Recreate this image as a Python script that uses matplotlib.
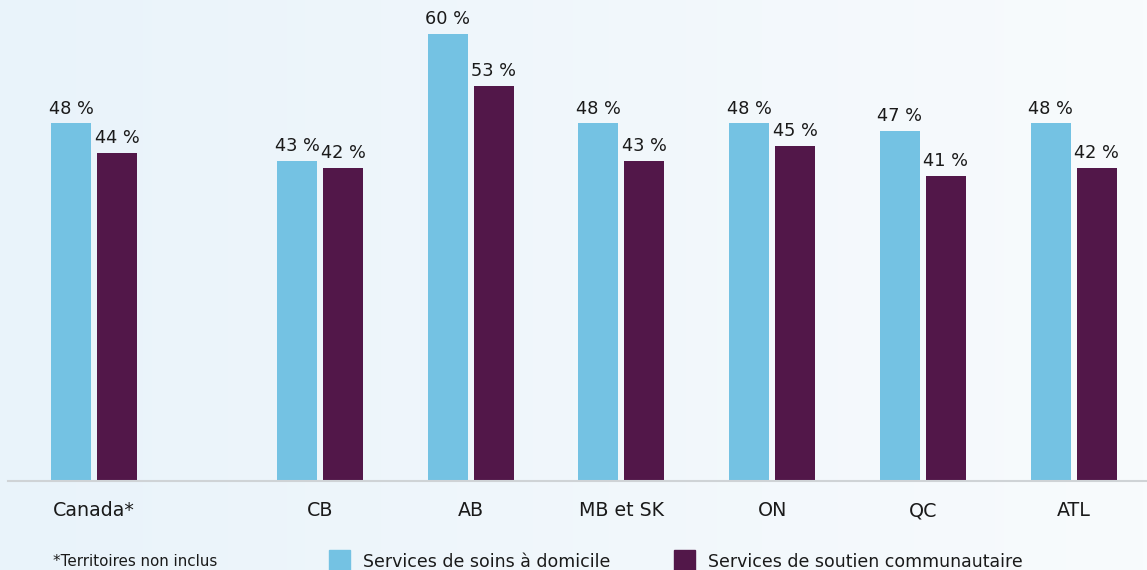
import numpy as np
import matplotlib
matplotlib.use("Agg")
import matplotlib.pyplot as plt
from matplotlib.patches import Rectangle

categories = ["Canada*", "CB", "AB", "MB et SK", "ON", "QC", "ATL"]
soins_domicile = [48, 43, 60, 48, 48, 47, 48]
soutien_communautaire = [44, 42, 53, 43, 45, 41, 42]
series_names = ["Services de soins à domicile", "Services de soutien communautaire"]
footnote = "*Territoires non inclus"

positions = np.array([0, 1.5, 2.5, 3.5, 4.5, 5.5, 6.5])

light = "#74c2e3"
dark = "#521749"
txt = "#1a1a1a"
font = "DejaVu Sans"

W, H = 1147, 570
fig = plt.figure(figsize=(W / 100, H / 100), dpi=100)

# background gradient
bg = fig.add_axes([0, 0, 1, 1], zorder=0)
grad = np.linspace(0, 1, 256)[None, :]
c0 = np.array([0xe9, 0xf3, 0xfa]) / 255
c1 = np.array([0xf8, 0xfb, 0xfd]) / 255
img = c0[None, None, :] * (1 - grad[..., None]) + c1[None, None, :] * grad[..., None]
bg.imshow(img, aspect="auto", extent=[0, 1, 0, 1])
bg.axis("off")

u = 150.7  # px per unit
x0 = 94.0  # px of Canada center
left_px, right_px = 8, W
base_px = 481
ax = fig.add_axes([left_px / W, (H - base_px) / H, (right_px - left_px) / W, base_px / H], zorder=1)
ax.set_facecolor("none")
ax.set_xlim((left_px - x0) / u, (right_px - x0) / u)
ax.set_ylim(0, 60 * base_px / 447)

bw = 40 / u
off = 23 / u
b1 = ax.bar(positions - off, soins_domicile, width=bw, color=light, zorder=2)
b2 = ax.bar(positions + off, soutien_communautaire, width=bw, color=dark, zorder=2)

for bars, vals in ((b1, soins_domicile), (b2, soutien_communautaire)):
    for b, v in zip(bars, vals):
        ax.annotate(f"{v} %", (b.get_x() + b.get_width() / 2, v), xytext=(0, 7),
                    textcoords="offset points", ha="center", va="baseline",
                    fontsize=12.8, color=txt, family=font, annotation_clip=False)

for s in ["top", "right", "left"]:
    ax.spines[s].set_visible(False)
ax.spines["bottom"].set_color("#cfd3d6")
ax.spines["bottom"].set_linewidth(1.5)
ax.set_yticks([])
ax.set_xticks(positions)
ax.set_xticklabels(categories, fontsize=13.7, color=txt, family=font)
ax.tick_params(axis="x", length=0, pad=14.5)

fig.text(53 / W, 1 - 566 / H, footnote, fontsize=10.9, color=txt, family=font, va="baseline")

# legend
for (xs, name, col) in ((329, series_names[0], light), (674, series_names[1], dark)):
    fig.patches.append(Rectangle((xs / W, 1 - 575 / H), 21 / W, 25 / H, transform=fig.transFigure,
                                 color=col, zorder=3, figure=fig))
    fig.text((xs + 34) / W, 1 - 567 / H, name, fontsize=12.5, color=txt, family=font, va="baseline")

fig.savefig("out.png", dpi=100)
